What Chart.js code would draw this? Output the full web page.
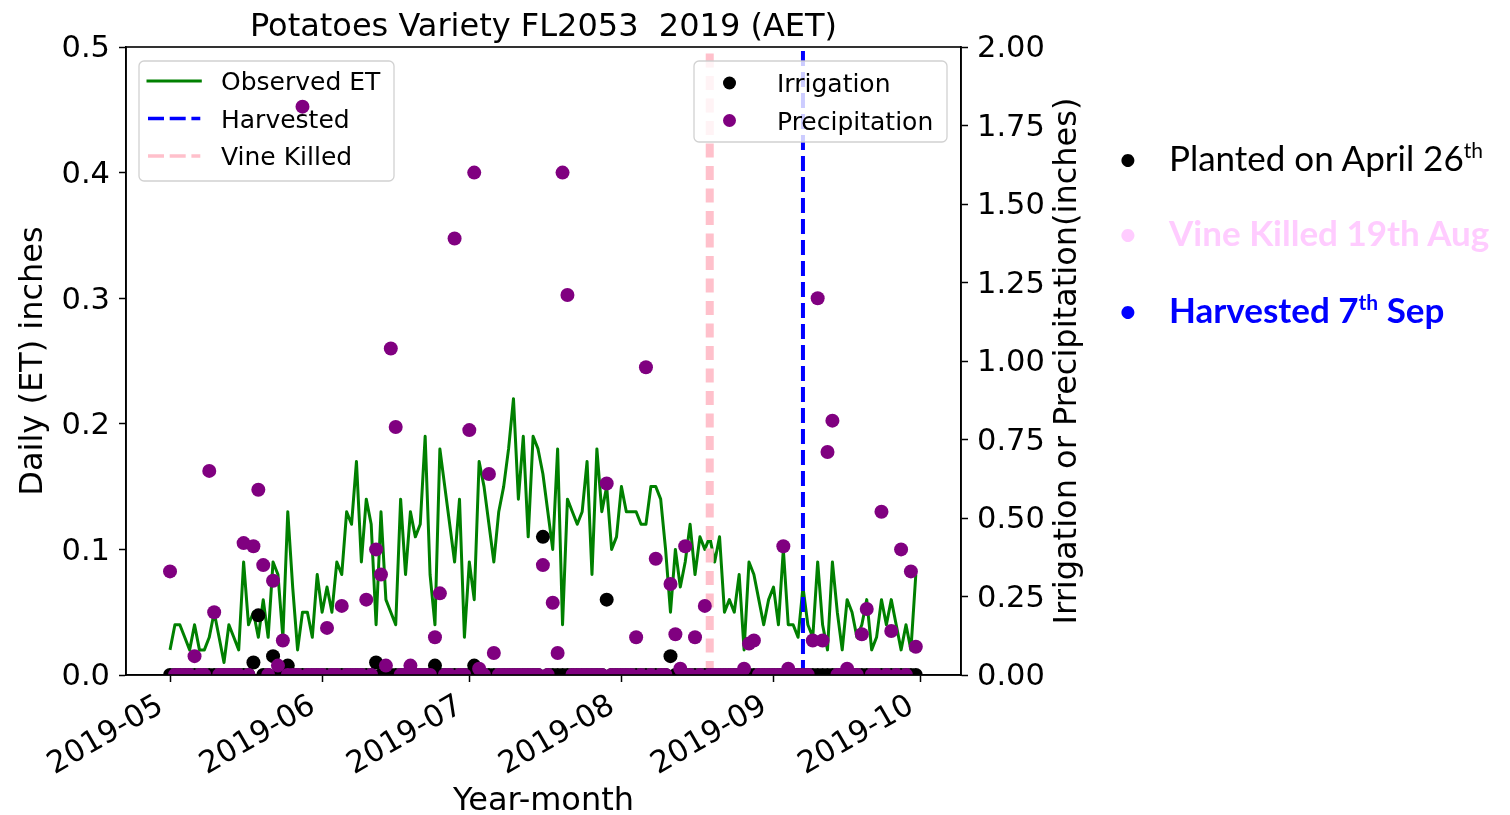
<!DOCTYPE html>
<html lang="en">
<head>
<meta charset="utf-8">
<title>Potatoes Variety FL2053 2019 (AET)</title>
<script src="https://cdn.jsdelivr.net/npm/chart.js@4.4.1/dist/chart.umd.min.js"></script>
<style>
  html, body { margin: 0; padding: 0; background: #fff; }
  #stage { position: relative; width: 1510px; height: 815px; overflow: hidden; background: #fff; }
  #chart { position: absolute; left: 0; top: 0; }
  .note { position: absolute; left: 1169px; font-family: Lato, 'Open Sans', sans-serif; font-size: 35px; line-height: 35px; white-space: nowrap; }
  .dot { position: absolute; left: 1116px; width: 24px; text-align: center; font-family: Lato, sans-serif; font-size: 35px; line-height: 35px; }
  .sup { font-size: 21px; line-height: 0; position: relative; top: -13px; }
  .bold { font-weight: 700; }
</style>
</head>
<body>
<div id="stage">
  <canvas id="chart" width="1510" height="815"></canvas>
  <div class="dot" style="top:140px;color:#000">•</div>
  <div class="note" style="top:140px;color:#000">Planted on April 26<span class="sup">th</span></div>
  <div class="dot" style="top:215px;color:#ffccff">•</div>
  <div class="note bold" style="top:215px;color:#ffccff">Vine Killed 19th Aug</div>
  <div class="dot" style="top:292px;color:#0000ff">•</div>
  <div class="note bold" style="top:292px;color:#0000ff">Harvested 7<span class="sup">th</span> Sep</div>
</div>
<script>
// Season calendar: one value per day starting on seasonStart
const seasonStart = '2019-05-01';
const monthLabels = ['2019-05', '2019-06', '2019-07', '2019-08', '2019-09', '2019-10'];
const etTickValues = [0, 0.1, 0.2, 0.3, 0.4, 0.5];
const waterTickValues = [0, 0.25, 0.5, 0.75, 1, 1.25, 1.5, 1.75, 2];
const vineKilledOn = '2019-08-19';
const harvestedOn = '2019-09-07';

// Observed daily evapotranspiration (inches)
const etMay = [0.02,0.04,0.04,0.03,0.02,0.04,0.02,0.02,0.03,0.05,0.03,0.01,0.04,0.03,0.02,0.09,
               0.04,0.05,0.03,0.06,0.03,0.09,0.08,0.03,0.13,0.07,0.02,0.05,0.05,0.03,0.08];
const etJun = [0.05,0.07,0.05,0.09,0.08,0.13,0.12,0.17,0.09,0.14,0.12,0.04,0.13,0.06,0.05,
               0.04,0.14,0.08,0.13,0.11,0.12,0.19,0.08,0.04,0.18,0.15,0.12,0.09,0.14,0.03];
const etJul = [0.09,0.06,0.17,0.15,0.12,0.09,0.13,0.15,0.18,0.22,0.14,0.19,0.11,0.19,0.18,0.16,
               0.13,0.10,0.18,0.04,0.14,0.13,0.12,0.13,0.17,0.08,0.18,0.13,0.15,0.10,0.11];
const etAug = [0.15,0.13,0.13,0.13,0.12,0.12,0.15,0.15,0.14,0.10,0.05,0.10,0.07,0.09,0.12,0.08,
               0.11,0.10,0.11,0.09,0.11,0.05,0.06,0.05,0.08,0.02,0.09,0.08,0.06,0.04,0.06];
const etSep = [0.07,0.04,0.10,0.04,0.04,0.03,0.07,0.04,0.03,0.09,0.04,0.02,0.09,0.05,0.02,
               0.06,0.05,0.03,0.04,0.06,0.02,0.03,0.06,0.04,0.06,0.04,0.02,0.04,0.02,0.08];

// Daily irrigation (inches)
const irrMay = [0,0,0,0,0, 0,0,0,0,0, 0,0,0,0,0, 0,0,0.04,0.19,0, 0,0.06,0,0,0.03, 0,0,0,0,0, 0];
const irrJun = [0,0,0,0,0, 0,0,0,0,0, 0,0.04,0,0,0, 0,0,0,0,0, 0,0,0,0.03,0, 0,0,0,0,0];
const irrJul = [0,0.03,0,0,0, 0,0,0,0,0, 0,0,0,0,0, 0.44,0,0,0,0, 0,0,0,0,0, 0,0,0,0.24,0, 0];
const irrAug = [0,0,0,0,0, 0,0,0,0,0, 0.06,0,0,0,0, 0,0,0,0,0, 0,0,0,0,0, 0,0,0,0,0, 0];
const irrSep = [0,0,0,0,0, 0,0,0,0,0, 0,0,0,0,0, 0,0,0,0,0, 0,0,0,0,0, 0,0,0,0,0];

// Daily precipitation (inches)
const rainMay = [0.33,0,0,0,0, 0.06,0,0,0.65,0.20, 0,0,0,0,0, 0.42,0,0.41,0.59,0.35,
                 0,0.30,0.03,0.11,0, 0,0,1.81,0,0, 0];
const rainJun = [0,0.15,0,0,0.22, 0,0,0,0,0.24, 0,0.40,0.32,0.03,1.04, 0.79,0,0,0.03,0,
                 0,0,0,0.12,0.26, 0,0,1.39,0,0];
const rainJul = [0.78,1.60,0.02,0,0.64, 0.07,0,0,0,0, 0,0,0,0,0, 0.35,0,0.23,0.07,1.60,
                 1.21,0,0,0,0, 0,0,0,0.61,0, 0];
const rainAug = [0,0,0,0.12,0, 0.98,0,0.37,0,0, 0.29,0.13,0.02,0.41,0, 0.12,0,0.22,0,0,
                 0,0,0,0,0, 0.02,0.10,0.11,0,0, 0];
const rainSep = [0,0,0.41,0.02,0, 0,0,0,0.11,1.20, 0.11,0.71,0.81,0,0, 0.02,0,0,0.13,0.21,
                 0,0,0.52,0,0.14, 0,0.40,0,0.33,0.09];

const observedET = [].concat(etMay, etJun, etJul, etAug, etSep);
const irrigation = [].concat(irrMay, irrJun, irrJul, irrAug, irrSep);
const precipitation = [].concat(rainMay, rainJun, rainJul, rainAug, rainSep);

// Day number counted from the first day of the season
const dayOf = s => Math.round((Date.parse(s) - Date.parse(seasonStart)) / 864e5);
const daily = arr => arr.map((v, i) => ({ x: i, y: v }));
const vLine = (day, top) => [{ x: day, y: 0 }, { x: day, y: top }];

const FONT = 'DejaVu Sans';
const AXIS_MIN = -8.97, AXIS_MAX = 161.21;

function roundedBox(ctx, x, y, w, h, r) {
  ctx.beginPath();
  ctx.moveTo(x + r, y);
  ctx.lineTo(x + w - r, y);
  ctx.arcTo(x + w, y, x + w, y + r, r);
  ctx.lineTo(x + w, y + h - r);
  ctx.arcTo(x + w, y + h, x + w - r, y + h, r);
  ctx.lineTo(x + r, y + h);
  ctx.arcTo(x, y + h, x, y + h - r, r);
  ctx.lineTo(x, y + r);
  ctx.arcTo(x, y, x + r, y, r);
  ctx.closePath();
}

function drawLegendFrame(ctx, x, y, w, h) {
  ctx.save();
  roundedBox(ctx, x, y, w, h, 5);
  ctx.fillStyle = 'rgba(255,255,255,0.8)';
  ctx.fill();
  ctx.strokeStyle = 'rgba(204,204,204,0.9)';
  ctx.lineWidth = 1.3;
  ctx.stroke();
  ctx.restore();
}

function legendText(ctx, text, x, yMid) {
  ctx.save();
  ctx.font = '25px "' + FONT + '"';
  ctx.fillStyle = '#000';
  ctx.textAlign = 'left';
  ctx.textBaseline = 'alphabetic';
  ctx.fillText(text, x, yMid + 9.1);
  ctx.restore();
}

// Legend for the ET axis: line handles
const lineLegend = [
  { label: 'Observed ET', color: '#008000', width: 3, dash: [] },
  { label: 'Harvested', color: '#0000ff', width: 3.3, dash: [16, 5.7] },
  { label: 'Vine Killed', color: '#ffc0cb', width: 3.3, dash: [16, 5.7] }
];
// Legend for the water axis: marker handles
const markerLegend = [
  { label: 'Irrigation', color: '#000000' },
  { label: 'Precipitation', color: '#800080' }
];

const decorations = {
  id: 'decorations',
  beforeDatasetsDraw(chart) {
    const ctx = chart.ctx;
    drawLegendFrame(ctx, 139, 61, 255, 120);
    const rows = [81, 118.5, 156];
    lineLegend.forEach((item, i) => {
      ctx.save();
      ctx.strokeStyle = item.color;
      ctx.lineWidth = item.width;
      ctx.setLineDash(item.dash);
      ctx.lineCap = item.dash.length ? 'butt' : 'square';
      ctx.beginPath();
      ctx.moveTo(148, rows[i]);
      ctx.lineTo(200.3, rows[i]);
      ctx.stroke();
      ctx.restore();
      legendText(ctx, item.label, 221, rows[i]);
    });
  },
  afterDatasetsDraw(chart) {
    const ctx = chart.ctx;
    const a = chart.chartArea;
    // axes box
    ctx.save();
    ctx.strokeStyle = '#000';
    ctx.lineWidth = 1.6;
    ctx.strokeRect(a.left, a.top, a.right - a.left, a.bottom - a.top);
    ctx.restore();

    drawLegendFrame(ctx, 694, 61, 253, 81);
    const rows = [83, 120.5];
    markerLegend.forEach((item, i) => {
      ctx.save();
      ctx.fillStyle = item.color;
      ctx.beginPath();
      ctx.arc(729.5, rows[i], 6.5, 0, Math.PI * 2);
      ctx.fill();
      ctx.restore();
      legendText(ctx, item.label, 777, rows[i]);
    });
  },
  afterDraw(chart) {
    const ctx = chart.ctx;
    const a = chart.chartArea;
    ctx.save();
    ctx.fillStyle = '#000';
    ctx.font = '32px "' + FONT + '"';
    ctx.textAlign = 'center';
    ctx.textBaseline = 'alphabetic';
    ctx.fillText('Potatoes Variety FL2053  2019 (AET)', (a.left + a.right) / 2, 35.5);
    // right-hand axis title, reading bottom to top
    ctx.translate(a.right + 115, (a.top + a.bottom) / 2);
    ctx.rotate(-Math.PI / 2);
    ctx.fillText('Irrigation or Precipitation(inches)', 0, 0);
    ctx.restore();
  }
};

const tickFont = { family: FONT, size: 30.5 };
const titleFont = { family: FONT, size: 32, lineHeight: 1 };

new Chart(document.getElementById('chart'), {
  type: 'line',
  data: {
    datasets: [
      {
        label: 'Precipitation', data: daily(precipitation), yAxisID: 'y2',
        showLine: false, pointRadius: 7, pointHoverRadius: 7,
        pointBackgroundColor: '#800080', pointBorderWidth: 0, borderWidth: 0,
        order: 0, clip: 0
      },
      {
        label: 'Irrigation', data: daily(irrigation), yAxisID: 'y2',
        showLine: false, pointRadius: 7, pointHoverRadius: 7,
        pointBackgroundColor: '#000000', pointBorderWidth: 0, borderWidth: 0,
        order: 1, clip: 0
      },
      {
        label: 'Harvested', data: vLine(dayOf(harvestedOn), 0.5), yAxisID: 'y',
        borderColor: '#0000ff', borderWidth: 4, borderDash: [15, 6], borderCapStyle: 'butt',
        pointRadius: 0, order: 2, clip: 0
      },
      {
        label: 'Vine Killed', data: vLine(dayOf(vineKilledOn), 0.5), yAxisID: 'y',
        borderColor: '#ffc0cb', borderWidth: 8, borderDash: [14, 8.5], borderCapStyle: 'butt',
        pointRadius: 0, order: 3, clip: 0
      },
      {
        label: 'Observed ET', data: daily(observedET), yAxisID: 'y',
        borderColor: '#008000', borderWidth: 3, borderJoinStyle: 'round',
        pointRadius: 0, tension: 0, order: 4, clip: 0
      }
    ]
  },
  options: {
    responsive: false,
    devicePixelRatio: 1,
    animation: false,
    events: [],
    layout: { padding: { top: 47, left: 0, right: 0, bottom: 0 } },
    plugins: { legend: { display: false }, tooltip: { enabled: false }, title: { display: false } },
    scales: {
      x: {
        type: 'linear', position: 'bottom', min: AXIS_MIN, max: AXIS_MAX,
        afterFit: s => { s.height = 140; },
        afterBuildTicks: s => { s.ticks = monthLabels.map(m => ({ value: dayOf(m + '-01') })); },
        ticks: {
          autoSkip: false, minRotation: 30, maxRotation: 30, padding: 6, labelOffset: -9,
          color: '#000', font: tickFont, callback: (v, i) => monthLabels[i]
        },
        grid: { drawOnChartArea: false, drawTicks: true, tickLength: 7, tickColor: '#000', tickWidth: 1.5 },
        border: { display: true, color: '#000', width: 1.6 },
        title: { display: true, text: 'Year-month', color: '#000', font: titleFont, padding: { top: 0, bottom: -3 } }
      },
      y: {
        position: 'left', min: 0, max: 0.5,
        afterFit: s => { s.width = 126; },
        afterBuildTicks: s => { s.ticks = etTickValues.map(v => ({ value: v })); },
        ticks: { autoSkip: false, padding: 9, labelOffset: 2.5, color: '#000', font: tickFont, callback: v => v.toFixed(1) },
        grid: { drawOnChartArea: false, drawTicks: true, tickLength: 7, tickColor: '#000', tickWidth: 1.5 },
        border: { display: true, color: '#000', width: 1.6 },
        title: { display: true, text: 'Daily (ET) inches', color: '#000', font: titleFont, padding: { top: 18, bottom: 0 } }
      },
      y2: {
        position: 'right', min: 0, max: 2,
        afterFit: s => { s.width = 549; },
        afterBuildTicks: s => { s.ticks = waterTickValues.map(v => ({ value: v })); },
        ticks: { autoSkip: false, padding: 9, labelOffset: 2.5, color: '#000', font: tickFont, callback: v => v.toFixed(2) },
        grid: { drawOnChartArea: false, drawTicks: true, tickLength: 7, tickColor: '#000', tickWidth: 1.5 },
        border: { display: true, color: '#000', width: 1.6 }
      }
    }
  },
  plugins: [decorations]
});
</script>
</body>
</html>
